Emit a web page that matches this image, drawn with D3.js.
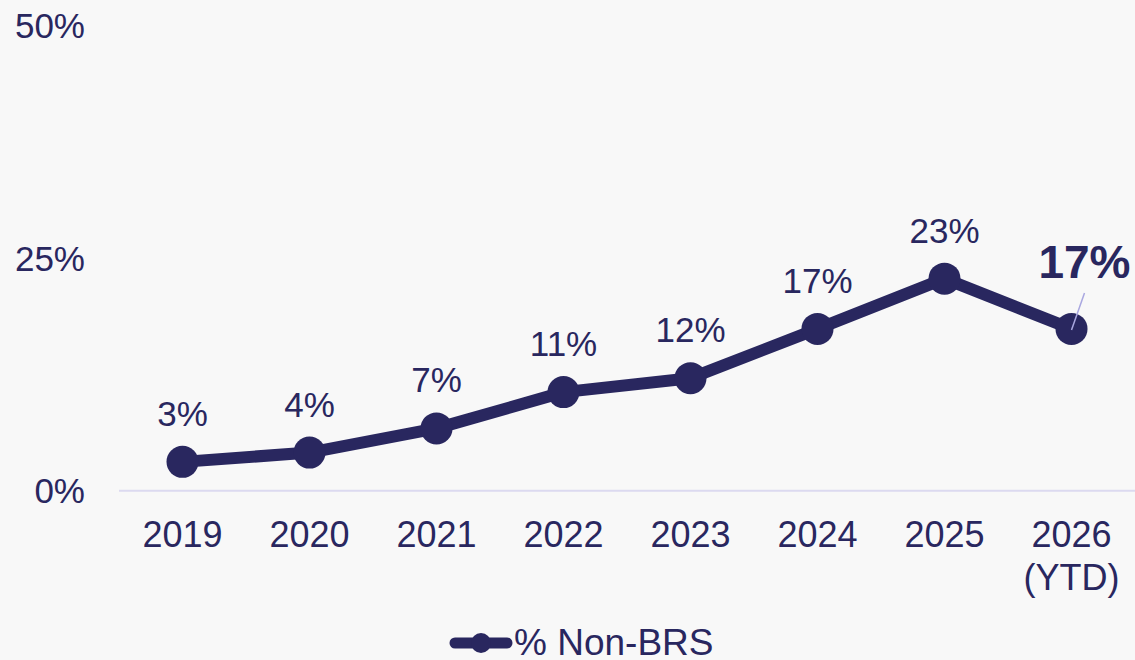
<!DOCTYPE html>
<html>
<head>
<meta charset="utf-8">
<script src="https://cdn.jsdelivr.net/npm/d3@7"></script>
<style>
  html, body { margin: 0; padding: 0; background: #f8f8f8; }
  svg { display: block; font-family: "Liberation Sans", Arial, sans-serif; }
</style>
</head>
<body>
<svg id="chart" width="1135" height="660"></svg>
<script>
const categories = ["2019", "2020", "2021", "2022", "2023", "2024", "2025", "2026\n(YTD)"];
const values = [3.1, 4.1, 6.7, 10.6, 12.1, 17.4, 22.8, 17.4];
const valueLabels = ["3%", "4%", "7%", "11%", "12%", "17%", "23%", "17%"];
const yTicks = [0, 25, 50];
const seriesName = "% Non-BRS";

const navy = "#29275f";
const W = 1135, H = 660;
const svg = d3.select("#chart");
svg.append("rect").attr("width", W).attr("height", H).attr("fill", "#f8f8f8");

const x = d3.scaleBand().domain(categories).range([119, 1135]);
const y = d3.scaleLinear().domain([0, 50]).range([490.7, 25.7]);
const cx = c => x(c) + x.bandwidth() / 2;

// y tick labels
const yAxis = d3.axisLeft(y).tickValues(yTicks).tickFormat(d => d + "%").tickSize(0).tickPadding(0);
const yg = svg.append("g").attr("transform", "translate(85,0)").call(yAxis);
yg.select(".domain").remove();
yg.selectAll("text").attr("fill", navy).attr("font-size", 35).attr("font-family", "Liberation Sans, Arial, sans-serif").attr("dy", "0.35em");

// baseline
svg.append("line").attr("x1", 119).attr("x2", 1135).attr("y1", y(0)).attr("y2", y(0))
  .attr("stroke", "#dcdaf0").attr("stroke-width", 2);

// x labels
const xAxis = d3.axisBottom(x).tickSize(0).tickFormat(() => "");
const xg = svg.append("g").attr("transform", `translate(0,${y(0)})`).call(xAxis);
xg.select(".domain").remove();
xg.selectAll(".tick").each(function(d) {
  const t = d3.select(this).select("text");
  t.attr("fill", navy).attr("font-size", 36).attr("font-family", "Liberation Sans, Arial, sans-serif")
    .attr("dy", null).attr("y", 0);
  d.split("\n").forEach((line, i) => {
    t.append("tspan").attr("x", 0).attr("y", 56 + i * 43.3).text(line);
  });
});

// line
const data = categories.map((c, i) => ({c, v: values[i], label: valueLabels[i]}));
svg.append("path").datum(data)
  .attr("d", d3.line().x(d => cx(d.c)).y(d => y(d.v)))
  .attr("fill", "none").attr("stroke", navy).attr("stroke-width", 12).attr("stroke-linejoin", "round");

svg.selectAll("circle.pt").data(data).enter().append("circle").attr("class", "pt")
  .attr("cx", d => cx(d.c)).attr("cy", d => y(d.v)).attr("r", 16).attr("fill", navy);

// data labels
const last = data.length - 1;
svg.selectAll("text.lbl").data(data.slice(0, last)).enter().append("text").attr("class", "lbl")
  .attr("x", d => cx(d.c)).attr("y", d => y(d.v) - 36)
  .attr("text-anchor", "middle").attr("fill", navy).attr("font-size", 35).text(d => d.label);

// highlighted last label with leader
const dl = data[last];
svg.append("line").attr("x1", cx(dl.c)).attr("y1", y(dl.v) + 1)
  .attr("x2", cx(dl.c) + 13).attr("y2", y(dl.v) - 36)
  .attr("stroke", "#a9a7e0").attr("stroke-width", 1.5);
svg.append("text").attr("x", cx(dl.c) + 13).attr("y", y(dl.v) - 51)
  .attr("text-anchor", "middle").attr("fill", navy).attr("font-size", 46).attr("font-weight", "bold").text(dl.label);

// legend
const lg = svg.append("g");
lg.append("line").attr("x1", 455).attr("x2", 507).attr("y1", 643).attr("y2", 643)
  .attr("stroke", navy).attr("stroke-width", 11).attr("stroke-linecap", "round");
lg.append("circle").attr("cx", 481).attr("cy", 643).attr("r", 10).attr("fill", navy);
lg.append("text").attr("x", 514).attr("y", 655).attr("fill", navy).attr("font-size", 37).text(seriesName);
</script>
</body>
</html>
